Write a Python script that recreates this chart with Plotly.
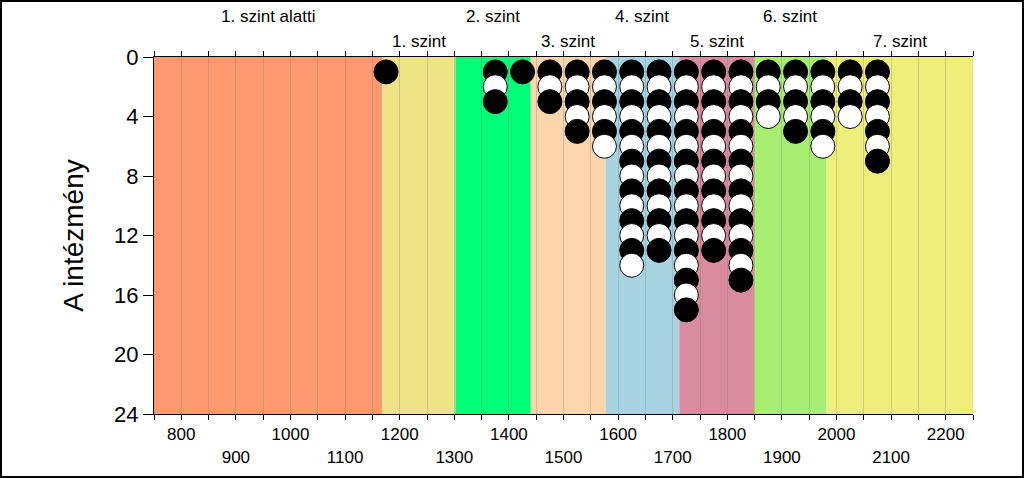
import plotly.graph_objects as go

# Column scores (x) and number of institutions in each column
scores = [1175, 1375, 1425, 1475, 1525, 1575, 1625, 1675, 1725, 1775, 1825, 1875, 1925, 1975, 2025, 2075]
counts = [1, 3, 1, 3, 5, 6, 14, 13, 17, 13, 15, 4, 5, 6, 4, 7]

# Proficiency level bands
level_names = ["1. szint alatti", "1. szint", "2. szint", "3. szint", "4. szint", "5. szint", "6. szint", "7. szint"]
level_edges = [750, 1168, 1302, 1440, 1577, 1712, 1849, 1982, 2250]
level_colors = ["#FF9970", "#EEE387", "#00FF78", "#FFD5AD", "#A8D4E2", "#D98BA0", "#A8EE72", "#EEEE7A"]

x_tick_labels = [800, 900, 1000, 1100, 1200, 1300, 1400, 1500, 1600, 1700, 1800, 1900, 2000, 2100, 2200]
y_ticks = [0, 4, 8, 12, 16, 20, 24]

xs, ys, cols = [], [], []
for s, c in zip(scores, counts):
    for k in range(1, c + 1):
        xs.append(s)
        ys.append(k)
        cols.append("black" if k % 2 == 1 else "white")

fig = go.Figure()
fig.add_trace(go.Scatter(
    x=xs, y=ys, mode="markers",
    marker=dict(size=24, color=cols, line=dict(color="black", width=1)),
    hoverinfo="x+y", showlegend=False,
))

shapes = []
for i, col in enumerate(level_colors):
    shapes.append(dict(type="rect", xref="x", yref="y", x0=level_edges[i], x1=level_edges[i + 1],
                       y0=0, y1=24, fillcolor=col, line=dict(width=0), layer="below"))

L, R, T, B = 154, 51, 57, 64
W, H = 1024, 478
pw, ph = W - L - R, H - T - B
shapes.append(dict(type="rect", xref="paper", yref="paper",
                   x0=(-L + 1) / pw, x1=1 + (R - 1) / pw,
                   y0=(-B + 1) / ph, y1=1 + (T - 1) / ph,
                   line=dict(color="black", width=2), fillcolor="rgba(0,0,0,0)"))

annotations = []
for i, name in enumerate(level_names):
    cx = (level_edges[i] + level_edges[i + 1]) / 2
    annotations.append(dict(x=cx, xref="x", y=1 + (40 if i % 2 == 0 else 15) / ph, yref="paper",
                            text=name, showarrow=False, font=dict(size=17, color="black"),
                            xanchor="center", yanchor="middle"))

tickvals = list(range(750, 2251, 50))
ticktext = []
for v in tickvals:
    if v in x_tick_labels:
        ticktext.append(str(v) if (v // 100) % 2 == 0 else "<br>" + str(v))
    else:
        ticktext.append("")

fig.update_layout(
    width=W, height=H,
    margin=dict(l=L, r=R, t=T, b=B),
    paper_bgcolor="white", plot_bgcolor="white",
    font=dict(family="Arial, Liberation Sans, sans-serif", color="black"),
    shapes=shapes, annotations=annotations,
    xaxis=dict(range=[750, 2250], tickmode="array", tickvals=tickvals, ticktext=ticktext,
               ticks="outside", ticklen=5, tickcolor="black", showline=True, linecolor="black",
               linewidth=1, mirror="ticks", showgrid=True, gridcolor="rgba(120,120,120,0.3)",
               gridwidth=1, zeroline=False, tickfont=dict(size=17), tickangle=0),
    yaxis=dict(range=[24, 0], tickmode="array", tickvals=y_ticks, ticks="outside", ticklen=10,
               tickcolor="black", showline=True, linecolor="black", linewidth=1, showgrid=False,
               zeroline=False, tickfont=dict(size=22),
               title=dict(text="A intézmény", font=dict(size=28), standoff=22)),
)

fig.write_html("out.html", config={"displayModeBar": False},
               post_script="document.body.style.margin='0';document.body.style.overflow='hidden';")
